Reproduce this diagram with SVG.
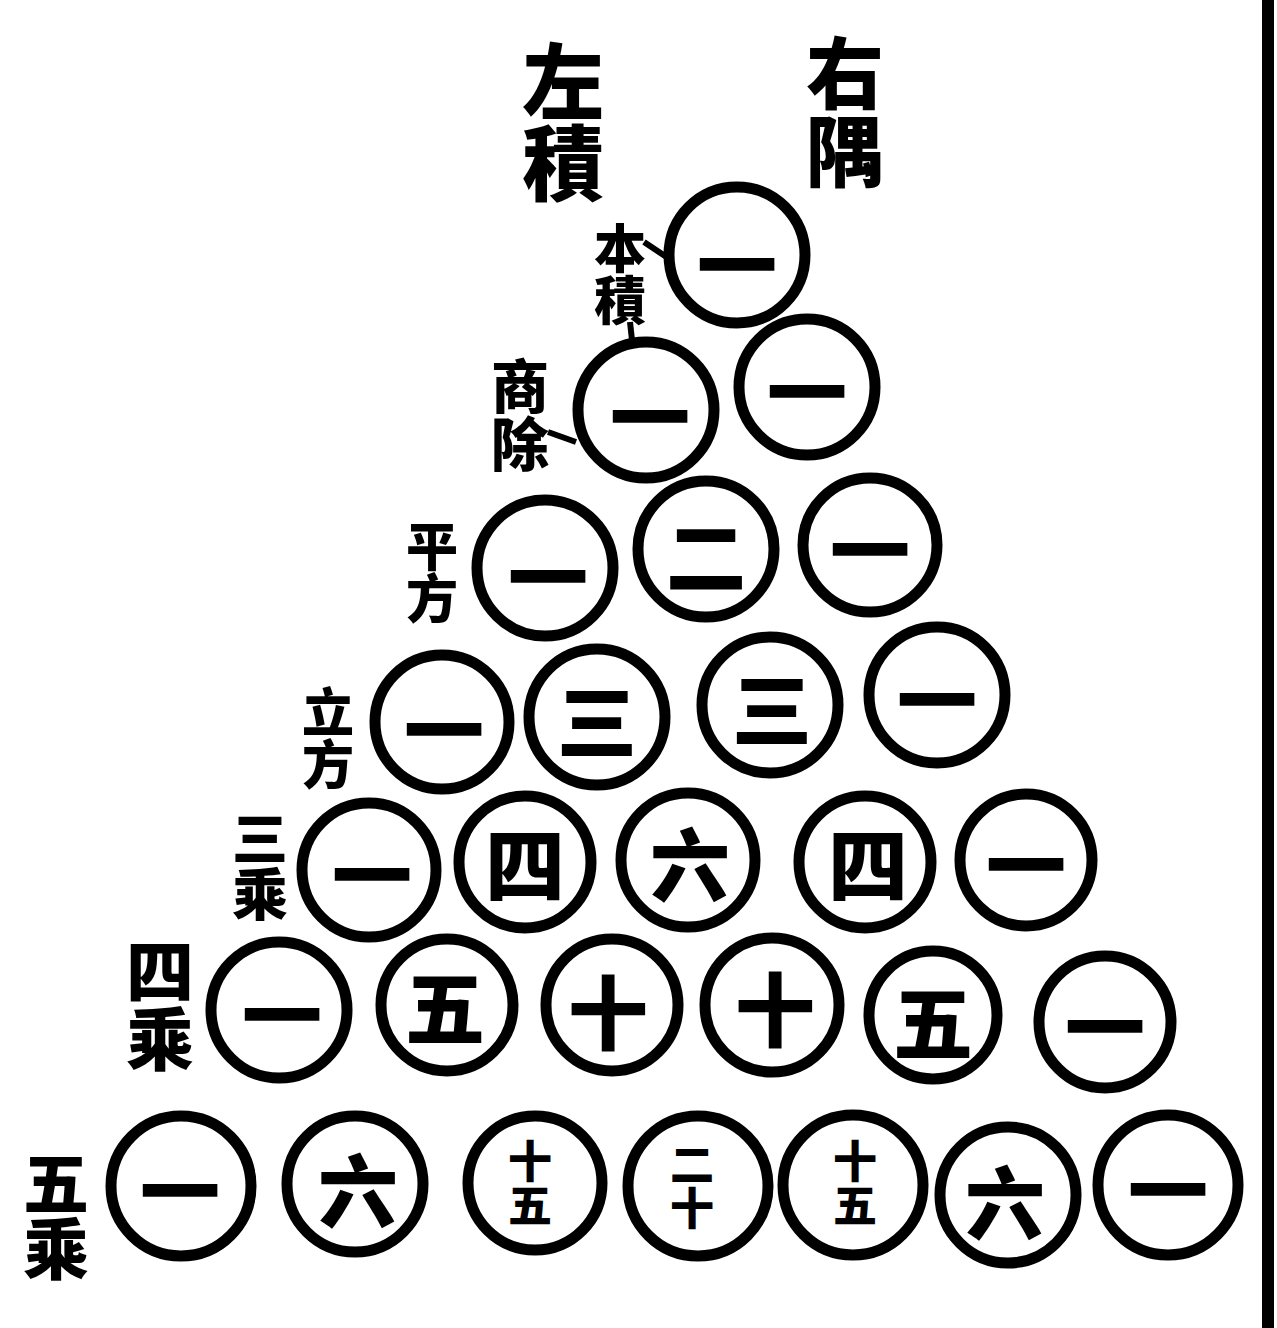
<svg xmlns="http://www.w3.org/2000/svg" width="1277" height="1328" viewBox="0 0 1277 1328">
<style>
.c{fill:none;stroke:#000;stroke-width:11}
.n{font-family:"Noto Sans CJK SC","Noto Sans CJK JP",sans-serif;font-weight:900;text-anchor:middle;dominant-baseline:central;fill:#000}
.big{font-size:80px}
.stk{font-size:44px;writing-mode:vertical-rl}
.lb{font-family:"Noto Sans CJK SC","Noto Sans CJK JP",sans-serif;font-weight:900;text-anchor:middle;fill:#000;writing-mode:vertical-rl}
.ln{stroke:#000;stroke-width:6;fill:none}
</style>
<rect width="1277" height="1328" fill="#fff"/>
<line x1="1268" y1="0" x2="1268" y2="1328" stroke="#000" stroke-width="12"/>
<g id="labels">
<g id="lbl-zuoji"><text class="lb" font-size="82" x="563" y="122">左積</text></g>
<g id="lbl-youyu"><text class="lb" font-size="78" x="845" y="112">右隅</text></g>
<g id="lbl-benji"><text class="lb" font-size="52" x="620" y="274">本積</text></g>
<g id="lbl-shangchu"><text class="lb" font-size="58" x="520" y="415">商除</text></g>
<g id="lbl-pingfang"><text class="lb" font-size="52" x="432" y="572">平方</text></g>
<g id="lbl-lifang"><text class="lb" font-size="52" x="328" y="738">立方</text></g>
<g id="lbl-sansheng"><text class="lb" font-size="56" x="260" y="866">三乘</text></g>
<g id="lbl-sisheng"><text class="lb" font-size="68" x="160" y="1005">四乘</text></g>
<g id="lbl-wusheng"><text class="lb" font-size="66" x="56" y="1216">五乘</text></g>
</g>
<g id="connectors">
<path class="ln" d="M644 242 L668 258"/>
<path class="ln" d="M630 322 L632 340"/>
<path class="ln" d="M548 432 L576 442"/>
</g>
<g id="r1c1"><circle class="c" cx="737" cy="255" r="68"/><text class="n big" x="737" y="260">一</text></g>
<g id="r2c1"><circle class="c" cx="646" cy="410" r="68"/><text class="n big" x="650" y="412">一</text></g>
<g id="r2c2"><circle class="c" cx="807" cy="387" r="68"/><text class="n big" x="807" y="387">一</text></g>
<g id="r3c1"><circle class="c" cx="545" cy="568" r="68"/><text class="n big" x="548" y="572">一</text></g>
<g id="r3c2"><circle class="c" cx="706" cy="549" r="68"/><text class="n big" x="706" y="552">二</text></g>
<g id="r3c3"><circle class="c" cx="870" cy="545" r="67"/><text class="n big" x="870" y="545">一</text></g>
<g id="r4c1"><circle class="c" cx="442" cy="722" r="67"/><text class="n big" x="444" y="725">一</text></g>
<g id="r4c2"><circle class="c" cx="597" cy="717" r="68"/><text class="n big" x="597" y="717">三</text></g>
<g id="r4c3"><circle class="c" cx="770" cy="705" r="68"/><text class="n big" x="772" y="705">三</text></g>
<g id="r4c4"><circle class="c" cx="937" cy="695" r="68"/><text class="n big" x="937" y="695">一</text></g>
<g id="r5c1"><circle class="c" cx="369" cy="870" r="67"/><text class="n big" x="372" y="870">一</text></g>
<g id="r5c2"><circle class="c" cx="525" cy="862" r="66"/><text class="n big" x="525" y="860">四</text></g>
<g id="r5c3"><circle class="c" cx="688" cy="860" r="67"/><text class="n big" x="690" y="860">六</text></g>
<g id="r5c4"><circle class="c" cx="865" cy="862" r="66"/><text class="n big" x="868" y="860">四</text></g>
<g id="r5c5"><circle class="c" cx="1026" cy="860" r="66"/><text class="n big" x="1026" y="860">一</text></g>
<g id="r6c1"><circle class="c" cx="279" cy="1010" r="68"/><text class="n big" x="282" y="1010">一</text></g>
<g id="r6c2"><circle class="c" cx="447" cy="1005" r="66"/><text class="n big" x="445" y="1003">五</text></g>
<g id="r6c3"><circle class="c" cx="612" cy="1005" r="66"/><text class="n big" x="608" y="1008">十</text></g>
<g id="r6c4"><circle class="c" cx="772" cy="1005" r="67"/><text class="n big" x="775" y="1005">十</text></g>
<g id="r6c5"><circle class="c" cx="933" cy="1015" r="64"/><text class="n big" x="933" y="1018">五</text></g>
<g id="r6c6"><circle class="c" cx="1105" cy="1022" r="66"/><text class="n big" x="1105" y="1022">一</text></g>
<g id="r7c1"><circle class="c" cx="181" cy="1186" r="70"/><text class="n big" x="180" y="1186">一</text></g>
<g id="r7c2"><circle class="c" cx="355" cy="1184" r="68"/><text class="n big" x="358" y="1186">六</text></g>
<g id="r7c3"><circle class="c" cx="535" cy="1183" r="67"/><text class="n stk" x="530" y="1183">十五</text></g>
<g id="r7c4"><circle class="c" cx="698" cy="1186" r="70"/><text class="n stk" x="692" y="1186">二十</text></g>
<g id="r7c5"><circle class="c" cx="853" cy="1185" r="70"/><text class="n stk" x="855" y="1183">十五</text></g>
<g id="r7c6"><circle class="c" cx="1008" cy="1195" r="68"/><text class="n big" x="1005" y="1198">六</text></g>
<g id="r7c7"><circle class="c" cx="1168" cy="1185" r="70"/><text class="n big" x="1168" y="1185">一</text></g>
</svg>
